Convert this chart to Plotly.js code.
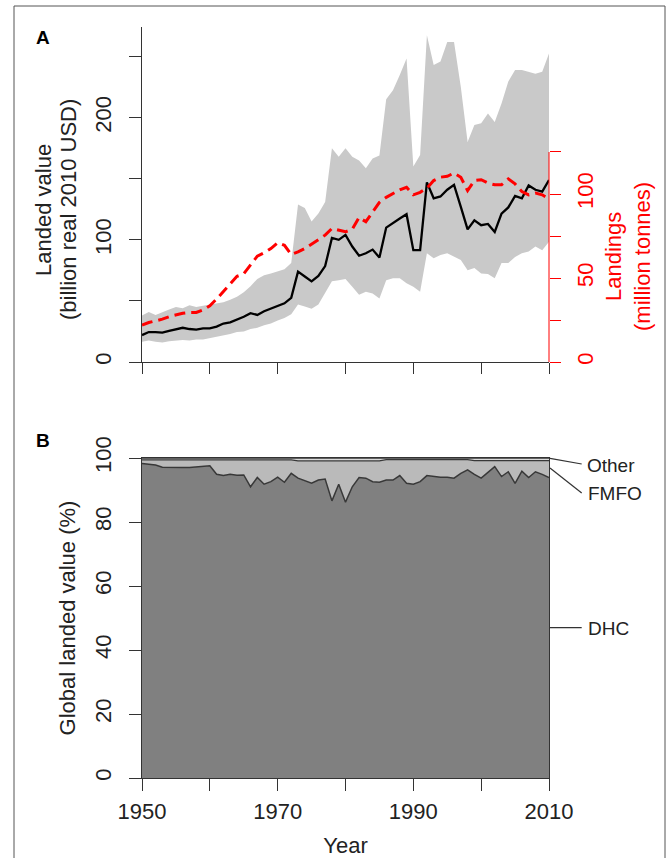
<!DOCTYPE html>
<html>
<head>
<meta charset="utf-8">
<script src="https://cdn.plot.ly/plotly-3.0.1.min.js"></script>
<style>html,body{margin:0;padding:0;background:#fff;}#chart{width:669px;height:858px;}</style>
</head>
<body>
<div id="chart"></div>
<script>
// ---------- DATA ----------
const years = [1950,1951,1952,1953,1954,1955,1956,1957,1958,1959,
  1960,1961,1962,1963,1964,1965,1966,1967,1968,1969,
  1970,1971,1972,1973,1974,1975,1976,1977,1978,1979,
  1980,1981,1982,1983,1984,1985,1986,1987,1988,1989,
  1990,1991,1992,1993,1994,1995,1996,1997,1998,1999,
  2000,2001,2002,2003,2004,2005,2006,2007,2008,2009,2010];

// Panel A: landed value (billion real 2010 USD), central estimate
const landedValue = [22,24.5,24.5,24,25.5,27,28,27,26.5,27.5,
  27.5,29,31.5,32.5,34.5,37,40,38.5,41.5,43.5,
  45.5,48,52.5,74,70,66,70.5,78.5,101.5,100,
  104,94.5,87,89,92,85.5,110,114,117.5,121,
  91.5,91.5,147,134,135.5,141,145,127,108.5,116,
  112,113,106.5,121.5,126.5,136,134,144.5,141,139.5,149];

// Panel A: uncertainty band (upper / lower)
const valueUpper = [38,41,38.5,41,43,45,44,46.5,45,46,
  47,47.5,49,51,53.5,57,62,68,71,72.5,
  74,76,81,129,126,115,121.5,131,175,168,
  175,168,165,158.5,166.5,169,215,222.5,235,248.5,
  160,169.5,267.5,243,246,262,262,225,180,194,
  195.5,203.5,196.5,211.5,229.5,239,239,237.5,236,237.5,252.5];
const valueLower = [16.5,17.5,16.5,16,17,17.5,18,17.5,18.5,18.5,
  19.5,20.5,22,23,24.5,25,27,28,30,31.5,
  34,36,39,47,45.5,43.5,47,56.5,66,67,
  68,61.5,55,57.5,56,52,67,68.5,68.5,64.5,
  61.5,57.5,89,85,87.5,89,86,83.5,75,77,
  72.5,72,68.5,81,81,86,89,90.5,94.5,91.5,98.5];

// Panel A: landings (million tonnes), right axis
const landings = [22,23.5,24.5,25.5,27,28,29,29.5,29.5,31,
  33.5,37.5,42,46,51,52.5,57.5,63,65,67.5,
  71,69.5,64,65.5,67.5,70,72.5,75.5,79.5,78.5,
  77.5,79,86,83.5,89.5,95,98,100,102.5,104,
  99.5,101,103.5,108,110,110.5,112.5,110,102,108,
  108.5,106.5,105.5,105.5,109,106,101.5,99.5,100.5,99.5,97];

// Panel B: share of global landed value (%)
const dhcPct = [98.3,98.0,97.8,97.1,97.0,97.0,97.0,97.0,97.2,97.3,
  97.6,94.9,94.5,94.9,94.6,94.7,91.0,93.9,91.8,92.6,
  94.0,92.4,95.2,93.7,92.8,92.1,93.1,93.4,86.6,91.8,
  86.2,91.0,93.9,93.7,92.6,92.4,93.1,93.1,94.5,92.1,
  91.8,92.6,94.5,94.2,94.0,94.0,93.7,95.2,96.3,94.9,
  93.7,95.5,97.3,94.2,95.7,92.1,95.9,93.9,95.7,94.9,93.9];
const fmfoPct = [1.1,1.4,1.6,2.3,2.4,2.4,2.4,2.4,2.2,2.1,
  1.8,4.5,4.9,4.5,4.8,4.7,8.4,5.5,7.6,6.8,
  5.4,7.0,4.2,5.4,6.3,7.0,6.0,5.7,12.5,7.3,
  12.9,8.1,5.2,5.4,6.5,6.7,6.4,6.4,5.0,7.4,
  7.7,6.9,5.0,5.3,5.5,5.5,5.8,4.3,3.2,4.3,
  5.5,3.7,1.9,5.0,3.5,7.1,3.3,5.3,3.5,4.3,5.3];
const otherPct = [0.6,0.6,0.6,0.6,0.6,0.6,0.6,0.6,0.6,0.6,
  0.6,0.6,0.6,0.6,0.6,0.6,0.6,0.6,0.6,0.6,
  0.6,0.6,0.6,0.9,0.9,0.9,0.9,0.9,0.9,0.9,
  0.9,0.9,0.9,0.9,0.9,0.9,0.5,0.5,0.5,0.5,
  0.5,0.5,0.5,0.5,0.5,0.5,0.5,0.5,0.5,0.8,
  0.8,0.8,0.8,0.8,0.8,0.8,0.8,0.8,0.8,0.8,0.8];

const xTicks = [1950,1960,1970,1980,1990,2000,2010];
const xTickText = ['1950','','1970','','1990','','2010'];
const yTicksA = [0,50,100,150,200,250];
const yTickTextA = ['0','','100','','200',''];
const yTicksA2 = [0,25,50,75,100,125];
const yTickTextA2 = ['0','','50','','100',''];
const yTicksB = [0,20,40,60,80,100];

// ---------- TRACES ----------
const FONT = 'Liberation Sans, Arial, Helvetica, sans-serif';
const traces = [
  {x: years, y: valueLower, type:'scatter', mode:'lines', line:{width:0, color:'#c9c9c9'}, xaxis:'x', yaxis:'y', hoverinfo:'skip'},
  {x: years, y: valueUpper, type:'scatter', mode:'lines', fill:'tonexty', fillcolor:'#c9c9c9', line:{width:0, color:'#c9c9c9'}, xaxis:'x', yaxis:'y', hoverinfo:'skip'},
  {x: years, y: landedValue, type:'scatter', mode:'lines', line:{color:'#000000', width:2.3}, xaxis:'x', yaxis:'y'},
  {x: years, y: landings, type:'scatter', mode:'lines', line:{color:'#ff0000', width:3, dash:'11px,6px'}, xaxis:'x', yaxis:'y2'},
  {x: years, y: dhcPct, type:'scatter', mode:'lines', stackgroup:'b', fillcolor:'#808080', line:{color:'#383838', width:1.5}, xaxis:'x2', yaxis:'y3'},
  {x: years, y: fmfoPct, type:'scatter', mode:'lines', stackgroup:'b', fillcolor:'#bababa', line:{color:'#383838', width:1.3}, xaxis:'x2', yaxis:'y3'},
  {x: years, y: otherPct, type:'scatter', mode:'lines', stackgroup:'b', fillcolor:'#dadada', line:{color:'#383838', width:1.3}, xaxis:'x2', yaxis:'y3'}
];

// paper coordinate helpers (plot area: x 142..549, y 27..778)
const PX = px => (px - 142) / 407;
const PY = py => (778 - py) / 751;

const axisCommon = {showgrid:false, zeroline:false, linecolor:'#333', linewidth:1, tickcolor:'#333', tickwidth:1, ticks:'outside', tickfont:{size:22, color:'#222', family:FONT}};

const layout = {
  width: 669, height: 858,
  margin: {l:142, r:120, t:27, b:80, pad:0},
  paper_bgcolor:'#ffffff', plot_bgcolor:'rgba(0,0,0,0)',
  showlegend:false,
  font:{family:FONT, size:22, color:'#222'},
  xaxis: Object.assign({}, axisCommon, {domain:[0,1], anchor:'y', range:[1950,2010], tickvals:xTicks, showticklabels:false, ticklen:11, showline:true}),
  yaxis: Object.assign({}, axisCommon, {domain:[PY(362),1], anchor:'x', range:[0,274.2], tickvals:yTicksA, ticktext:yTickTextA, tickangle:-90, ticklen:12, ticklabelstandoff:9, showline:true}),
  yaxis2: Object.assign({}, axisCommon, {overlaying:'y', side:'right', anchor:'x', range:[0,199.4], tickvals:yTicksA2, ticktext:yTickTextA2, tickangle:-90, ticklen:11, ticklabelstandoff:6, showline:false, tickcolor:'#ff0000', tickfont:{size:22, color:'#ff0000', family:FONT}}),
  xaxis2: Object.assign({}, axisCommon, {domain:[0,1], anchor:'y3', range:[1950,2010], tickvals:xTicks, ticktext:xTickText, ticklen:12, ticklabelstandoff:2, showline:true, mirror:true, title:{text:'Year', font:{size:22, color:'#222'}, standoff:18}}),
  yaxis3: Object.assign({}, axisCommon, {domain:[0,PY(458)], anchor:'x2', range:[0,100], tickvals:yTicksB, tickangle:-90, ticklen:12, ticklabelstandoff:9, showline:true, mirror:true, title:{text:'Global landed value (%)', font:{size:22, color:'#222'}, standoff:9}}),
  shapes: [
    // red landings axis line (spans tick range only)
    {type:'line', xref:'paper', yref:'y2', x0:1, x1:1, y0:0, y1:125, line:{color:'#ff0000', width:1}},
    // leader lines for panel B labels
    {type:'line', xref:'paper', yref:'paper', x0:PX(550), y0:PY(458.3), x1:PX(581.7), y1:PY(464), line:{color:'#333', width:1.2}},
    {type:'line', xref:'paper', yref:'paper', x0:PX(550), y0:PY(468), x1:PX(581.7), y1:PY(493), line:{color:'#333', width:1.2}},
    {type:'line', xref:'paper', yref:'paper', x0:PX(549), y0:PY(627.7), x1:PX(581.7), y1:PY(627.7), line:{color:'#333', width:1.2}},
    // outer frame
    {type:'rect', xref:'paper', yref:'paper', x0:PX(14), x1:PX(665), y0:PY(900), y1:PY(6), line:{color:'#555', width:1}, fillcolor:'rgba(0,0,0,0)'}
  ],
  annotations: [
    {text:'<b>A</b>', xref:'paper', yref:'paper', x:PX(43), y:PY(37), showarrow:false, font:{size:19, color:'#000'}, xanchor:'center', yanchor:'middle'},
    {text:'<b>B</b>', xref:'paper', yref:'paper', x:PX(43), y:PY(440), showarrow:false, font:{size:19, color:'#000'}, xanchor:'center', yanchor:'middle'},
    {text:'Landed value', xref:'paper', yref:'paper', x:PX(43), y:PY(210), showarrow:false, textangle:-90, font:{size:22, color:'#222'}, xanchor:'center', yanchor:'middle'},
    {text:'(billion real 2010 USD)', xref:'paper', yref:'paper', x:PX(68), y:PY(210), showarrow:false, textangle:-90, font:{size:22, color:'#222'}, xanchor:'center', yanchor:'middle'},
    {text:'Landings', xref:'paper', yref:'paper', x:PX(613), y:PY(257), showarrow:false, textangle:-90, font:{size:22, color:'#ff0000'}, xanchor:'center', yanchor:'middle'},
    {text:'(million tonnes)', xref:'paper', yref:'paper', x:PX(642), y:PY(257), showarrow:false, textangle:-90, font:{size:22, color:'#ff0000'}, xanchor:'center', yanchor:'middle'},
    {text:'Other', xref:'paper', yref:'paper', x:PX(585), y:PY(465), showarrow:false, font:{size:19, color:'#222'}, xanchor:'left', yanchor:'middle'},
    {text:'FMFO', xref:'paper', yref:'paper', x:PX(586), y:PY(493), showarrow:false, font:{size:19, color:'#222'}, xanchor:'left', yanchor:'middle'},
    {text:'DHC', xref:'paper', yref:'paper', x:PX(586), y:PY(628), showarrow:false, font:{size:19, color:'#222'}, xanchor:'left', yanchor:'middle'}
  ]
};

Plotly.newPlot('chart', traces, layout, {displayModeBar:false, staticPlot:true});
</script>
</body>
</html>
